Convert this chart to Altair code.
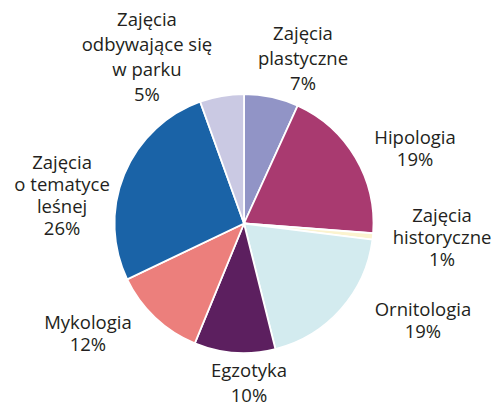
import altair as alt
import pandas as pd

# ---- data ----
names = [
    "Zajęcia plastyczne",
    "Hipologia",
    "Zajęcia historyczne",
    "Ornitologia",
    "Egzotyka",
    "Mykologia",
    "Zajęcia o tematyce leśnej",
    "Zajęcia odbywające się w parku",
]
label_lines = [
    ["Zajęcia", "plastyczne"],
    ["Hipologia"],
    ["Zajęcia", "historyczne"],
    ["Ornitologia"],
    ["Egzotyka"],
    ["Mykologia"],
    ["Zajęcia", "o tematyce", "leśnej"],
    ["Zajęcia", "odbywające się", "w parku"],
]
pct_labels = [7, 19, 1, 19, 10, 12, 26, 5]
# slice shares (percent)
shares = [6.8, 19.4, 0.8, 19.1, 10.1, 11.7, 26.6, 5.5]

# ---- style / layout ----
colors = ["#9194c6", "#a93a70", "#fbf3cf", "#d3ebef",
          "#5c1f5f", "#ec7f7c", "#1a63a7", "#cac9e3"]
label_angle = [19.7, 66.5, 94.3, 118.7, 178.2, 234.8, 278.6, 329.7]
label_dist = [175, 186.5, 198.6, 204, 159.6, 191, 184, 192.3]
line_gap = [25, 22, 22, 22, 25, 22, 22, 25]
CX, CY, R = 244, 223.5, 129.5
FONT = "Open Sans"

df = pd.DataFrame({
    "name": names,
    "share": shares,
    "idx": list(range(len(names))),
    "label": ["\n".join(l + [f"{p}%"]) for l, p in zip(label_lines, pct_labels)],
    "n": [len(l) + 1 for l in label_lines],
    "la": label_angle,
    "ld": label_dist,
    "lh": line_gap,
})

base = alt.Chart(df)

pie = base.mark_arc(outerRadius=R, stroke="white", strokeWidth=1.8).encode(
    theta=alt.Theta("share:Q", stack=True),
    order=alt.Order("idx:Q"),
    color=alt.Color("name:N", sort=names,
                    scale=alt.Scale(domain=names, range=colors), legend=None),
    x=alt.value(CX),
    y=alt.value(CY),
)

pos = base.transform_calculate(
    lx=f"{CX} + datum.ld * sin(datum.la * PI / 180)",
    ly=f"{CY} - datum.ld * cos(datum.la * PI / 180) - (datum.n - 1) * datum.lh / 2",
)

def text_layer(lh):
    return pos.transform_filter(alt.datum.lh == lh).mark_text(
        font=FONT, fontSize=18.5, color="#231f20", align="center",
        baseline="middle", lineBreak="\n", lineHeight=lh,
    ).encode(
        x=alt.X("lx:Q", scale=None),
        y=alt.Y("ly:Q", scale=None),
        text="label:N",
    )

chart = alt.layer(pie, text_layer(25), text_layer(22)).properties(
    width=499, height=402,
    autosize=alt.AutoSizeParams(type="none"),
    padding=0,
).configure_view(stroke=None)

chart.save("out.html", embed_options={"renderer": "svg", "actions": False})
